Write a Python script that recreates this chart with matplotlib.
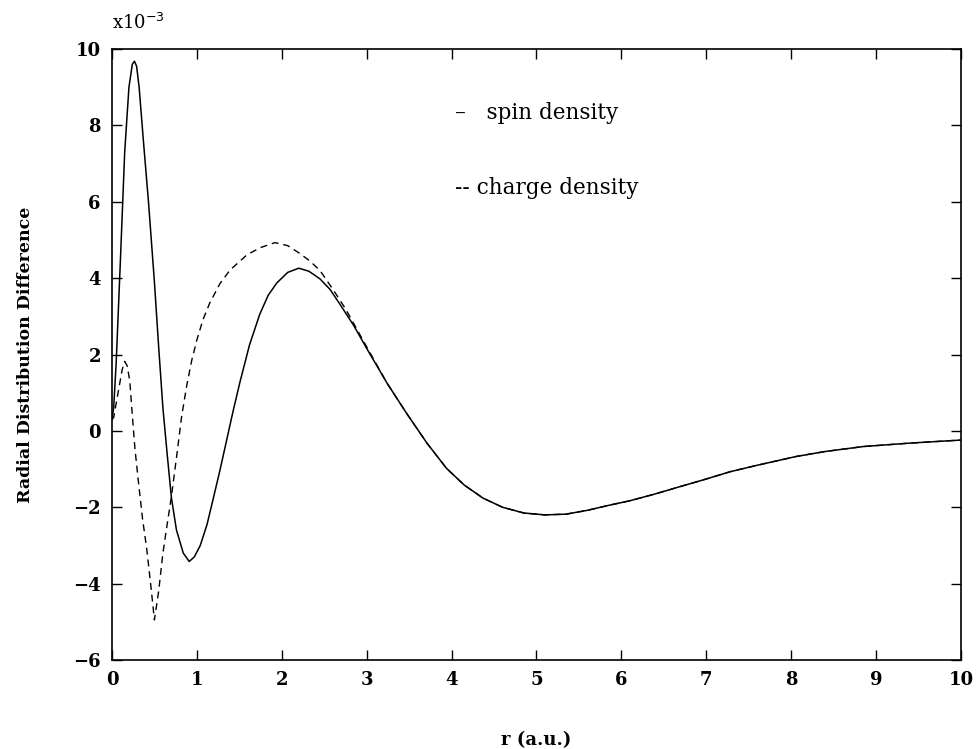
import matplotlib
matplotlib.use("Agg")
import matplotlib.pyplot as plt

# r (a.u.) and radial distribution difference (x10^-3)
spin_r = [0.0, 0.02, 0.05, 0.1, 0.15, 0.2, 0.24, 0.265, 0.29, 0.32, 0.37,
          0.43, 0.50, 0.55, 0.60, 0.65, 0.70, 0.76, 0.84, 0.91, 0.97, 1.04, 1.12,
          1.19, 1.27, 1.35, 1.43, 1.51, 1.62, 1.74, 1.84, 1.94, 2.07, 2.20,
          2.32, 2.45, 2.57, 2.69, 2.85, 3.0, 3.24, 3.47, 3.71, 3.94, 4.15,
          4.37, 4.6, 4.85, 5.1, 5.35, 5.6, 5.85, 6.1, 6.4, 6.69, 7.0, 7.28,
          7.6, 8.06, 8.4, 8.85, 9.4, 10.0]
spin_val = [0.3, 0.6, 1.8, 4.5, 7.3, 9.0, 9.6, 9.68, 9.55, 9.0, 7.6,
            6.0, 3.9, 2.2, 0.6, -0.6, -1.75, -2.6, -3.2, -3.42, -3.3, -3.0, -2.45,
            -1.8, -1.05, -0.25, 0.55, 1.3, 2.25, 3.05, 3.55, 3.87, 4.15, 4.26,
            4.18, 3.98, 3.7, 3.30, 2.75, 2.16, 1.25, 0.46, -0.32, -0.98, -1.42,
            -1.76, -2.0, -2.15, -2.2, -2.18, -2.08, -1.95, -1.83, -1.65, -1.46, -1.26, -1.07,
            -0.9, -0.67, -0.54, -0.41, -0.32, -0.24]

charge_r = [0.0, 0.02, 0.08, 0.12, 0.15, 0.18, 0.21, 0.24, 0.27, 0.31, 0.36, 0.41,
            0.46, 0.50, 0.55, 0.60, 0.65, 0.70, 0.76, 0.82, 0.88, 0.94, 1.0,
            1.07, 1.15, 1.27, 1.39, 1.59, 1.75, 1.92, 2.07, 2.21, 2.33, 2.45,
            2.61, 2.75, 2.9, 3.0, 3.24, 3.47, 3.71, 3.94, 4.15, 4.37, 4.6,
            4.85, 5.1, 5.35, 5.6, 5.85, 6.1, 6.4, 6.69, 7.0, 7.28, 7.6, 8.06,
            8.4, 8.85, 9.4, 10.0]
charge_val = [0.3, 0.35, 1.1, 1.6, 1.82, 1.7, 1.3, 0.4, -0.45, -1.3, -2.3, -3.1,
              -4.1, -4.95, -4.2, -3.2, -2.45, -1.72, -0.7, 0.37, 1.18, 1.85, 2.38,
              2.9, 3.34, 3.85, 4.21, 4.61, 4.8, 4.93, 4.85, 4.65, 4.45, 4.2,
              3.68, 3.2, 2.6, 2.2, 1.25, 0.46, -0.32, -0.98, -1.42, -1.76, -2.0,
              -2.15, -2.2, -2.18, -2.08, -1.95, -1.83, -1.65, -1.46, -1.26, -1.07, -0.9, -0.67,
              -0.54, -0.41, -0.32, -0.24]

x_ticks = [0, 1, 2, 3, 4, 5, 6, 7, 8, 9, 10]
y_ticks = [-6, -4, -2, 0, 2, 4, 6, 8, 10]

plt.rcParams['font.family'] = ['DejaVu Serif']

fig = plt.figure(figsize=(9.77, 7.49), dpi=100)
ax = fig.add_axes([0.1146, 0.1188, 0.869, 0.8158])

ax.plot(spin_r, spin_val, color='black', linewidth=1.1)
ax.plot(charge_r, charge_val, color='black', linewidth=1.0, linestyle=(0, (5, 3.5)))

ax.set_xlim(0, 10)
ax.set_ylim(-6, 10)
ax.set_xticks(x_ticks)
ax.set_yticks(y_ticks)
ax.tick_params(direction='in', length=7, width=1, top=True, right=True,
               labelsize=13, pad=8)
for lab in ax.get_xticklabels() + ax.get_yticklabels():
    lab.set_fontweight('bold')
for sp in ax.spines.values():
    sp.set_linewidth(1.2)

ax.set_xlabel('r (a.u.)', fontsize=13, fontweight='bold', labelpad=30)
ax.set_ylabel('Radial Distribution Difference', fontsize=12.5, fontweight='bold', labelpad=28)

ax.text(0.0, 1.043, r'x10$^{-3}$', transform=ax.transAxes, fontsize=13,
        ha='left', va='center')

# legend drawn as text, like the original
ax.text(0.404, 0.895, '\u2013   spin density', transform=ax.transAxes, fontsize=15.5,
        ha='left', va='center')
ax.text(0.404, 0.772, '-- charge density', transform=ax.transAxes, fontsize=15.5,
        ha='left', va='center')

plt.savefig('out.png', dpi=100)
